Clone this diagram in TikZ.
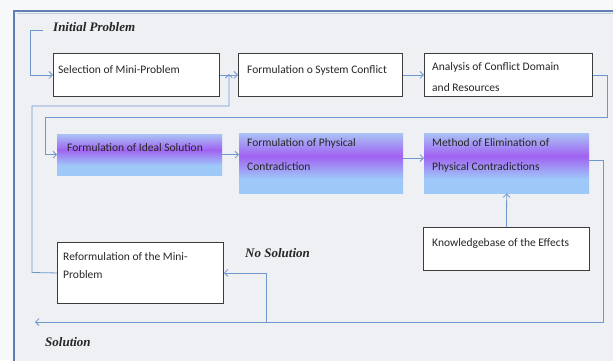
\documentclass[tikz,border=0pt]{standalone}
\usepackage{fontspec}
\setmainfont{Carlito}
\newfontfamily\lblfont{Liberation Serif}
\usetikzlibrary{arrows.meta,calc}
\definecolor{conn}{HTML}{7097CC}
\definecolor{frame}{HTML}{5F7FB2}
\definecolor{bgin}{HTML}{EEF0F3}
\definecolor{bgout}{HTML}{F7F8FA}
\definecolor{boxline}{HTML}{3C3C3C}
\definecolor{gtop}{HTML}{A9C3F4}
\definecolor{gmid}{HTML}{A062F2}
\definecolor{gbot}{HTML}{9EC8F8}
\pgfdeclareverticalshading{purpleband}{100bp}{color(0bp)=(gbot); color(25bp)=(gbot); color(37bp)=(gbot); color(56bp)=(gmid); color(75bp)=(gtop); color(100bp)=(gtop)}
\tikzset{
  plainbox/.style={draw=boxline, line width=0.9pt, fill=white, anchor=north west, inner sep=0pt},
  gradbox/.style={shading=purpleband, anchor=north west, inner sep=0pt},
  boxtext/.style={anchor=north west, inner sep=0pt, font=\fontsize{11.5}{21}\selectfont, align=left, text=black!85},
  lbl/.style={anchor=base west, inner sep=0pt, font=\lblfont\fontsize{13}{15}\selectfont\bfseries\itshape, text=black!85},
  conn/.style={draw=conn, line width=0.8pt},
  arr/.style={conn, -{Straight Barb[length=3.5pt,width=7pt]}}
}
\begin{document}
\begin{tikzpicture}[x=1pt,y=-1pt]
\useasboundingbox (0,0) rectangle (613,360);
\clip (0,0) rectangle (613,360);
\fill[bgout] (0,0) rectangle (613,360);
\draw[frame, line width=1.6pt, fill=bgin] (14,11) rectangle (640,390);
\draw[frame!40, line width=0.5pt] (16.5,13.5) -- (640,13.5);
% boxes
\node[plainbox, minimum width=166pt, minimum height=43pt] (sel) at (53,53) {};
\node[plainbox, minimum width=164pt, minimum height=43pt] (form) at (238,53) {};
\node[plainbox, minimum width=168pt, minimum height=43pt] (ana) at (424,53) {};
\node[gradbox, minimum width=165pt, minimum height=41pt] (ideal) at (57,134) {};
\node[gradbox, minimum width=164pt, minimum height=60pt] (phys) at (239,133) {};
\node[gradbox, minimum width=165pt, minimum height=60pt] (meth) at (424,133) {};
\node[plainbox, minimum width=166pt, minimum height=43pt] (know) at (423,227) {};
\node[plainbox, minimum width=166pt, minimum height=61pt] (ref) at (57,242) {};
% box texts
\node[boxtext] (tsel) at ([shift={(5,12)}]sel.north west) {Selection of Mini-Problem};
\node[boxtext] (tform) at ([shift={(9,12)}]form.north west) {Formulation o System Conflict};
\node[boxtext] (tana) at ([shift={(8,9.5)}]ana.north west) {Analysis of Conflict Domain\\and Resources};
\node[boxtext] (tideal) at ([shift={(10,9.5)}]ideal.north west) {Formulation of Ideal Solution};
\node[boxtext] (tphys) at ([shift={(8,5.5)}]phys.north west) {Formulation of Physical\\[3pt]Contradiction};
\node[boxtext] (tmeth) at ([shift={(8,5.5)}]meth.north west) {Method of Elimination of\\[3pt]Physical Contradictions};
\node[boxtext] (tknow) at ([shift={(9,11.5)}]know.north west) {Knowledgebase of the Effects};
\node[boxtext, font=\fontsize{11.5}{18}\selectfont] (tref) at ([shift={(6,10.5)}]ref.north west) {Reformulation of the Mini-\\Problem};
% labels
\node[lbl] (lip) at (53,31) {Initial Problem};
\node[lbl] (lns) at (245,257) {No Solution};
\node[lbl] (lsol) at (45,346) {Solution};
% connectors
\coordinate (ipstart) at (43,30);
\draw[arr] (ipstart) -- (30,30) |- (sel.west);
\draw[arr] (sel.east) -- (form.west);
\draw[arr] (form.east) -- (ana.west);
\draw[arr] (ana.east) -- ++(14,0) |- (45,117) |- (ideal.west);
\draw[arr] (ideal.east) -- (ideal.east -| phys.west);
\draw[arr] (phys.east |- 0,158) -- (meth.west |- 0,158);
\draw[arr] (know.north) -- (meth.south);
\coordinate (solend) at (35,322);
\coordinate (branch) at (266,322);
\draw[arr] (meth.east |- 0,160) -- (603,160) |- (solend);
\draw[arr] (branch) |- (ref.east);
\coordinate (join) at ($(sel.east)!0.5!(form.west)$);
\draw[arr] (ref.west) -- (32,272.5) |- (join |- 0,106) -- ([yshift=1pt]join);
\end{tikzpicture}
\end{document}
